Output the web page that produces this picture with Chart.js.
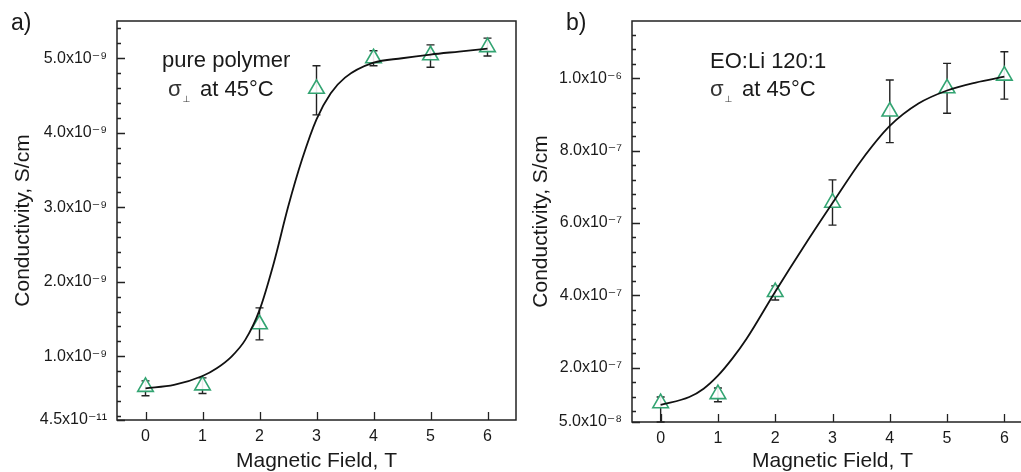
<!DOCTYPE html>
<html><head><meta charset="utf-8">
<script src="https://cdn.jsdelivr.net/npm/chart.js@4.4.1/dist/chart.umd.min.js"></script>
<style>
html,body{margin:0;padding:0;background:#fff;overflow:hidden;}
#wrap{position:relative;width:1021px;height:472px;overflow:hidden;background:#fff;}
canvas{position:absolute;top:0;}
#cA{left:0;}
#cB{left:520px;}
</style></head><body>
<div id="wrap"><canvas id="cA" width="530" height="472"></canvas><canvas id="cB" width="530" height="472"></canvas></div>
<script>
// ---------- shared ----------
const xTicks = [0, 1, 2, 3, 4, 5, 6];
const xTickLabels = ['0', '1', '2', '3', '4', '5', '6'];

// ---------- panel a: pure polymer ----------
const fieldA = [0, 1, 2, 3, 4, 5, 6];
const sigmaA = [0.59e-9, 0.61e-9, 1.43e-9, 4.59e-9, 5.00e-9, 5.04e-9, 5.15e-9];
const sigmaLowA = [0.47e-9, 0.50e-9, 1.22e-9, 4.24e-9, 4.90e-9, 4.88e-9, 5.03e-9];
const sigmaHighA = [0.67e-9, 0.71e-9, 1.65e-9, 4.90e-9, 5.10e-9, 5.18e-9, 5.27e-9];
const fitFieldA = [0, 0.5, 1, 1.25, 1.5, 1.75, 2, 2.25, 2.5, 2.75, 3, 3.25, 3.5, 4, 4.5, 5, 5.5, 6];
const fitSigmaA = [0.57e-9, 0.615e-9, 0.735e-9, 0.84e-9, 0.99e-9, 1.22e-9, 1.62e-9, 2.25e-9, 3.0e-9, 3.65e-9, 4.18e-9, 4.53e-9, 4.74e-9, 4.94e-9, 5.0e-9, 5.05e-9, 5.09e-9, 5.13e-9];
const yMinA = 1.45e-10, yMaxA = 5.5e-9;
const yTicksA = [1.45e-10, 1e-9, 2e-9, 3e-9, 4e-9, 5e-9];
const yTickLabelsA = ['4.5x10\u207B\u00B9\u00B9', '1.0x10\u207B\u2079', '2.0x10\u207B\u2079', '3.0x10\u207B\u2079', '4.0x10\u207B\u2079', '5.0x10\u207B\u2079'];
const yMinorStepA = 0.2e-9;

// ---------- panel b: EO:Li 120:1 ----------
const fieldB = [0, 1, 2, 3, 4, 5, 6];
const sigmaB = [1.02e-7, 1.27e-7, 4.09e-7, 6.56e-7, 9.08e-7, 9.72e-7, 1.007e-6];
const sigmaLowB = [0.50e-7, 1.06e-7, 3.87e-7, 5.94e-7, 8.22e-7, 9.03e-7, 9.42e-7];
const sigmaHighB = [1.19e-7, 1.44e-7, 4.26e-7, 7.19e-7, 9.95e-7, 1.041e-6, 1.073e-6];
const fitFieldB = [0, 0.5, 0.75, 1, 1.25, 1.5, 2, 2.5, 3, 3.5, 4, 4.5, 5, 5.5, 6];
const fitSigmaB = [0.97e-7, 1.19e-7, 1.42e-7, 1.78e-7, 2.25e-7, 2.80e-7, 4.10e-7, 5.35e-7, 6.55e-7, 7.72e-7, 8.68e-7, 9.30e-7, 9.66e-7, 9.88e-7, 1.004e-6];
const yMinB = 5e-8, yMaxB = 1.158e-6;
const yTicksB = [5e-8, 2e-7, 4e-7, 6e-7, 8e-7, 1e-6];
const yTickLabelsB = ['5.0x10\u207B\u2078', '2.0x10\u207B\u2077', '4.0x10\u207B\u2077', '6.0x10\u207B\u2077', '8.0x10\u207B\u2077', '1.0x10\u207B\u2076'];
const yMinorStepB = 0.4e-7;

const FONT = "'Liberation Sans', Arial, 'DejaVu Sans', sans-serif";
const TXT = '#1a1a1a';
const GREEN = '#33a472';

function minorTicks(min, max, step, majors) {
  const out = [];
  const start = Math.ceil(min / step - 1e-6);
  for (let k = start; k * step <= max + 1e-20; k++) {
    const v = k * step;
    if (v <= min) continue;
    if (majors.some(m => Math.abs(m - v) < step * 0.01)) continue;
    out.push(v);
  }
  return out;
}

function decorPlugin(p) {
  return {
    id: 'decor' + p.name,
    beforeDatasetsDraw(chart) {
      const {ctx, scales: {x, y}} = chart;
      ctx.save();
      ctx.strokeStyle = '#222';
      ctx.lineWidth = 1.4;
      p.x.forEach((fx, i) => {
        const px = x.getPixelForValue(fx);
        const lo = y.getPixelForValue(p.lo[i]);
        const hi = y.getPixelForValue(p.hi[i]);
        ctx.beginPath();
        ctx.moveTo(px, lo); ctx.lineTo(px, hi);
        ctx.moveTo(px - 4, lo); ctx.lineTo(px + 4, lo);
        ctx.moveTo(px - 4, hi); ctx.lineTo(px + 4, hi);
        ctx.stroke();
      });
      ctx.restore();
    },
    afterDraw(chart) {
      const {ctx, chartArea: a, scales: {x, y}} = chart;
      ctx.save();
      ctx.strokeStyle = '#222';
      ctx.lineWidth = 1.5;
      ctx.strokeRect(a.left, a.top, a.right - a.left, a.bottom - a.top);
      ctx.lineWidth = 1.3;
      ctx.beginPath();
      p.yTicks.forEach(v => {
        const py = Math.round(y.getPixelForValue(v)) + 0.5;
        ctx.moveTo(a.left, py); ctx.lineTo(a.left + 8, py);
      });
      minorTicks(p.yMin, p.yMax, p.minorStep, p.yTicks).forEach(v => {
        const py = Math.round(y.getPixelForValue(v)) + 0.5;
        ctx.moveTo(a.left, py); ctx.lineTo(a.left + 4, py);
      });
      xTicks.forEach(v => {
        const px = Math.round(x.getPixelForValue(v)) + 0.5;
        ctx.moveTo(px, a.bottom); ctx.lineTo(px, a.bottom - 8);
      });
      ctx.stroke();

      // annotations
      ctx.fillStyle = TXT;
      ctx.textBaseline = 'alphabetic';
      ctx.textAlign = 'left';
      ctx.font = '22px ' + FONT;
      ctx.fillText(p.note, a.left + p.noteX, p.noteY);
      ctx.fillStyle = '#333';
      ctx.fillText('\u03C3', a.left + p.sigmaX, p.line2Y);
      const sw = ctx.measureText('\u03C3').width;
      ctx.font = '9px ' + FONT;
      ctx.fillText('\u22A5', a.left + p.sigmaX + sw + 1, p.line2Y + 6);
      ctx.fillStyle = TXT;
      ctx.font = '22px ' + FONT;
      ctx.fillText('at 45\u00B0C', a.left + p.atX, p.line2Y);

      // panel label
      ctx.font = '23px ' + FONT;
      ctx.fillText(p.panel, p.panelX, 30);
      ctx.restore();
    }
  };
}

function buildChart(id, p) {
  return new Chart(document.getElementById(id), {
    type: 'scatter',
    data: {
      datasets: [
        {
          type: 'line',
          data: p.fitX.map((fx, i) => ({x: fx, y: p.fitY[i]})),
          borderColor: '#111', borderWidth: 1.8, pointRadius: 0,
          cubicInterpolationMode: 'monotone', fill: false, order: 0
        },
        {
          type: 'scatter',
          data: p.x.map((fx, i) => ({x: fx, y: p.y[i]})),
          pointStyle: 'triangle', pointRadius: 9,
          borderColor: GREEN, backgroundColor: 'rgba(255,255,255,0.9)', borderWidth: 1.6, order: 1
        }
      ]
    },
    options: {
      responsive: false, animation: false, events: [],
      layout: {padding: {top: 21, right: p.padRight, left: 0, bottom: 0}},
      plugins: {legend: {display: false}, tooltip: {enabled: false}},
      scales: {
        x: {
          type: 'linear', min: -0.5, max: 6.5,
          afterBuildTicks: s => { s.ticks = xTicks.map(v => ({value: v})); },
          afterFit: s => { s.height = p.xAxisH; },
          grid: {display: false, drawTicks: false}, border: {display: false},
          ticks: {autoSkip: false, maxRotation: 0, font: {family: FONT, size: 16}, color: TXT, padding: 7,
                  callback: (v, i) => xTickLabels[i]},
          title: {display: true, text: 'Magnetic Field, T', color: TXT,
                  font: {family: FONT, size: 21, lineHeight: 1}, padding: {top: 0, bottom: p.xTitlePad}}
        },
        y: {
          type: 'linear', min: p.yMin, max: p.yMax,
          afterBuildTicks: s => { s.ticks = p.yTicks.map(v => ({value: v})); },
          afterFit: s => { s.width = p.yAxisW; },
          grid: {display: false, drawTicks: false}, border: {display: false},
          ticks: {autoSkip: false, font: {family: FONT, size: 16}, color: TXT, padding: 10,
                  callback: (v, i) => p.yLabels[i]},
          title: {display: true, text: 'Conductivity, S/cm', color: TXT,
                  font: {family: FONT, size: 21, lineHeight: 1}, padding: {top: p.yTitlePad, bottom: 0}}
        }
      }
    },
    plugins: [decorPlugin(p)]
  });
}

buildChart('cA', {
  name: 'A', x: fieldA, y: sigmaA, lo: sigmaLowA, hi: sigmaHighA,
  fitX: fitFieldA, fitY: fitSigmaA, yMin: yMinA, yMax: yMaxA,
  yTicks: yTicksA, yLabels: yTickLabelsA, minorStep: yMinorStepA,
  padRight: 14, xAxisH: 52, yAxisW: 117, xTitlePad: 0.5, yTitlePad: 12.5,
  note: 'pure polymer', noteX: 45, noteY: 67, sigmaX: 51, atX: 83, line2Y: 96,
  panel: 'a)', panelX: 11
});
buildChart('cB', {
  name: 'B', x: fieldB, y: sigmaB, lo: sigmaLowB, hi: sigmaHighB,
  fitX: fitFieldB, fitY: fitSigmaB, yMin: yMinB, yMax: yMaxB,
  yTicks: yTicksB, yLabels: yTickLabelsB, minorStep: yMinorStepB,
  padRight: 17, xAxisH: 50, yAxisW: 112, xTitlePad: 0, yTitlePad: 10.5,
  note: 'EO:Li 120:1', noteX: 78, noteY: 68, sigmaX: 78, atX: 110, line2Y: 96,
  panel: 'b)', panelX: 46
});
</script></body></html>
